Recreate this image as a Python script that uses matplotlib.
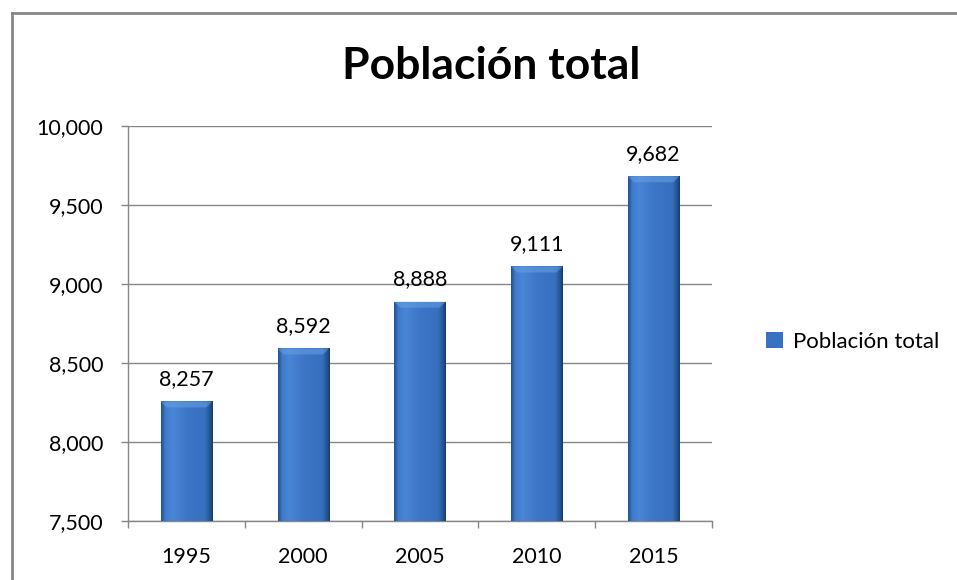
import numpy as np
import matplotlib
matplotlib.use('Agg')
import matplotlib.pyplot as plt
from matplotlib.lines import Line2D
from matplotlib.colors import LinearSegmentedColormap
from matplotlib.ticker import FuncFormatter, FixedLocator

years = ['1995', '2000', '2005', '2010', '2015']
poblacion = [8257, 8592, 8888, 9111, 9682]
serie = 'Población total'
titulo = 'Población total'

plt.rcParams['font.family'] = ['Lato', 'DejaVu Sans']

fig = plt.figure(figsize=(9.57, 5.80), dpi=100)
ax = fig.add_axes([128/957, 59/580, 584/957, 395/580])

x = np.arange(len(years))
bars = ax.bar(x, poblacion, width=0.44, bottom=0, color='#3a72c2',
              edgecolor='none', zorder=3, label=serie)

# bevelled gradient for each bar
cmap = LinearSegmentedColormap.from_list('bev', [
    (0.0, '#21508f'), (0.08, '#3f7bcc'), (0.22, '#4a86d6'),
    (0.5, '#3d76c6'), (0.85, '#3670bf'), (0.95, '#24548f'), (1.0, '#173a6a')])
prof = np.linspace(0, 1, 200)[None, :]
for b in bars:
    x0, w, h = b.get_x(), b.get_width(), b.get_height()
    im = ax.imshow(prof, cmap=cmap, aspect='auto', extent=[x0, x0 + w, 7500, h],
                   zorder=3.5, interpolation='bicubic')
    im.set_clip_path(b)
    # light bevel on top
    ax.fill([x0, x0 + w, x0 + w - 0.05, x0 + 0.05], [h, h, h - 38, h - 38],
            color='#6a9fe4', alpha=0.55, zorder=4, lw=0)
    ax.annotate(f'{int(h):,}', (x0 + w / 2, h), xytext=(0, 9), textcoords='offset points',
                ha='center', va='bottom', fontsize=15.5, color='#000000')

ax.set_xlim(-0.5, len(years) - 0.5)
ax.set_ylim(7500, 10000)
ax.set_yticks(np.arange(7500, 10001, 500))
ax.yaxis.set_major_formatter(FuncFormatter(lambda v, p: f'{int(v):,}'))
ax.set_xticks(x)
ax.set_xticklabels(years)
ax.xaxis.set_minor_locator(FixedLocator(np.arange(-0.5, len(years), 1)))
ax.tick_params(axis='x', which='major', length=0, pad=19, labelsize=15.5)
ax.tick_params(axis='x', which='minor', length=5, color='#868686', width=1)
ax.tick_params(axis='y', length=5, color='#868686', width=1, labelsize=15.5, pad=13)

ax.grid(axis='y', color='#868686', lw=1, zorder=1)
for s in ['top', 'right']:
    ax.spines[s].set_visible(False)
for s in ['left', 'bottom']:
    ax.spines[s].set_color('#868686')
    ax.spines[s].set_linewidth(1)

fig.text(491/957, 1 - 66/580, titulo, ha='center', va='center', fontsize=32, fontweight='bold')

leg = fig.legend(handles=[bars], labels=[serie], loc='center left',
                 bbox_to_anchor=(746/957, 1 - 342/580), frameon=False, fontsize=16,
                 handlelength=0.75, handleheight=0.75, handletextpad=0.45)

# outer chart border (left and top only visible)
fig.add_artist(Line2D([12/957, 12/957], [0, 1 - 13/580], color='#868686', lw=2))
fig.add_artist(Line2D([12/957, 1], [1 - 13/580, 1 - 13/580], color='#868686', lw=2))

fig.savefig('out.png', dpi=100)
